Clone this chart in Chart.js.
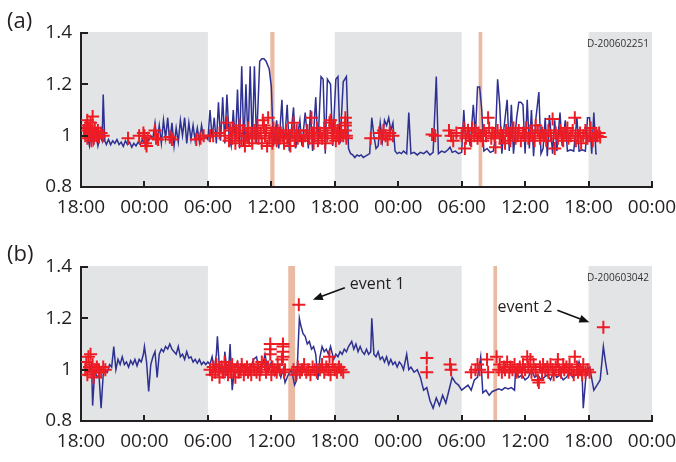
<!DOCTYPE html>
<html>
<head>
<meta charset="utf-8">
<script src="https://cdn.jsdelivr.net/npm/chart.js@4.4.1/dist/chart.umd.min.js"></script>
<style>
  html, body { margin: 0; padding: 0; background: #fff; }
  #wrap { position: relative; width: 676px; height: 462px; }
  canvas { position: absolute; left: 0; }
</style>
</head>
<body>
<div id="wrap">
  <canvas id="chartA" width="676" height="231" style="top:0"></canvas>
  <canvas id="chartB" width="676" height="231" style="top:231px"></canvas>
</div>
<script>
// x values are hours counted from the first 18:00
var xTickLabels = ["18:00", "00:00", "06:00", "12:00", "18:00", "00:00", "06:00", "12:00", "18:00", "00:00"];
var nightBands = [[0, 12], [24, 36], [48, 54]];
var stimBarsA = [[17.9, 18.3], [37.6, 37.95]];
var stimBarsB = [[19.6, 20.25], [39.0, 39.35]];

var lineA = [[0.6,1.0],[0.8,0.96],[1.0,1.02],[1.2,0.97],[1.4,1.01],[1.6,0.96],[1.8,1.0],[2.0,0.98],[2.1,1.16],[2.25,0.98],
  [2.4,0.965],[2.6,0.985],[2.8,0.965],[3.0,0.98],[3.2,0.97],[3.4,0.985],[3.6,0.965],[3.8,0.975],[4.0,0.958],[4.2,0.98],
  [4.4,0.965],[4.6,0.975],[4.8,0.955],[5.0,0.97],[5.2,0.96],[5.4,0.975],[5.6,0.965],[5.8,0.985],[6.0,0.97],[6.2,0.99],
  [6.4,0.98],[6.6,1.0],[6.8,0.99],[7.0,1.05],[7.2,0.98],[7.4,1.04],[7.6,0.97],[7.8,1.06],[8.0,0.99],[8.2,1.07],
  [8.4,0.97],[8.6,1.05],[8.8,0.96],[9.0,1.03],[9.2,0.975],[9.4,1.06],[9.6,1.0],[9.8,1.07],[10.0,0.97],[10.2,1.05],
  [10.4,0.985],[10.6,1.04],[10.8,0.98],[11.0,1.03],[11.2,0.975],[11.4,1.04],[11.6,0.99],[11.8,1.0],[12.0,0.985],[12.2,1.1],
  [12.4,0.99],[12.6,1.07],[12.8,0.97],[13.0,1.13],[13.2,0.98],[13.4,1.15],[13.6,0.97],[13.8,1.16],[14.0,1.0],[14.2,0.96],
  [14.4,1.1],[14.6,0.97],[14.8,1.18],[15.0,0.95],[15.2,1.27],[15.4,0.96],[15.6,1.2],[15.8,0.97],[16.0,1.27],[16.2,0.96],
  [16.4,1.27],[16.6,0.97],[16.9,1.29],[17.1,1.30],[17.3,1.30],[17.5,1.29],[17.8,1.26],[18.0,1.19],[18.2,0.96],[18.5,1.06],
  [18.7,0.95],[19.0,1.14],[19.2,0.95],[19.5,1.12],[19.7,0.94],[20.1,1.11],[20.3,0.95],[20.7,1.06],[20.9,0.96],[21.2,1.09],
  [21.5,0.95],[21.7,1.10],[21.9,0.94],[22.2,1.15],[22.4,0.96],[22.7,1.23],[22.9,1.22],[23.1,0.93],[23.3,1.22],[23.6,1.20],
  [23.8,0.96],[24.1,1.22],[24.3,1.23],[24.5,0.97],[24.8,1.21],[25.1,1.23],[25.3,0.95],[25.5,0.93],[25.7,0.925],[25.9,0.915],
  [26.1,0.925],[26.3,0.92],[26.5,0.925],[26.7,0.915],[26.9,0.92],[27.1,0.925],[27.3,0.93],[27.5,1.07],[27.7,1.0],[27.9,0.95],
  [28.1,0.96],[28.3,1.05],[28.5,0.98],[28.7,1.06],[28.9,1.04],[29.1,1.07],[29.3,1.02],[29.5,1.05],[29.7,0.94],[29.9,0.93],
  [30.1,0.935],[30.3,0.93],[30.5,0.94],[30.8,0.93],[31.0,1.09],[31.2,0.93],[31.5,0.935],[31.8,0.925],[32.1,0.935],[32.4,0.93],
  [32.7,0.94],[33.0,0.925],[33.3,0.935],[33.6,1.23],[33.8,0.93],[34.1,0.94],[34.4,0.935],[34.7,0.945],[34.9,0.955],[35.1,0.935],
  [35.4,0.94],[35.7,0.93],[36.0,0.935],[36.2,1.10],[36.4,0.97],[36.6,1.03],[36.8,0.96],[37.1,1.12],[37.3,1.0],[37.5,1.19],
  [37.7,1.19],[37.9,1.10],[38.1,0.94],[38.4,0.95],[38.7,0.935],[39.0,0.94],[39.2,1.0],[39.4,1.22],[39.6,1.12],[39.8,0.93],
  [40.0,1.03],[40.3,1.14],[40.5,0.94],[40.7,1.12],[40.9,0.93],[41.2,1.07],[41.4,1.13],[41.6,1.13],[41.8,1.12],[42.0,0.93],
  [42.2,1.14],[42.4,0.95],[42.6,1.10],[42.8,0.92],[43.0,1.06],[43.3,1.17],[43.5,0.93],[43.7,0.95],[43.9,1.07],[44.1,0.92],
  [44.3,1.08],[44.6,0.93],[44.8,1.06],[45.0,0.94],[45.3,1.09],[45.5,0.96],[45.8,1.06],[46.0,0.94],[46.3,0.945],[46.6,0.94],
  [46.9,1.07],[47.1,0.94],[47.4,0.945],[47.7,0.94],[47.9,1.07],[48.1,1.07],[48.3,0.93],[48.5,1.09],[48.7,0.93],[48.8,0.93]];

var markersA = [[0.3,1.02],[0.4,1.0],[0.5,1.04],[0.6,0.99],[0.7,1.03],[0.8,1.01],[0.9,1.05],[1.0,1.0],[1.1,1.075],[1.1,1.02],
  [1.2,0.99],[1.3,1.03],[1.4,1.01],[1.5,1.0],[1.6,1.02],[1.7,0.995],[1.9,1.01],[2.1,1.0],[0.6,1.06],[1.0,0.98],
  [4.45,0.99],[5.5,1.0],[5.9,1.01],[6.0,1.0],[6.1,0.97],[6.2,0.96],[6.3,0.99],[7.0,1.02],[7.1,0.99],[7.3,0.985],
  [8.4,0.995],[8.6,0.985],[10.9,0.985],[11.3,0.99],[11.6,1.0],[12.2,1.0],[12.5,1.0],[13.1,1.01],
  [13.6,1.0],[13.8,1.05],[14.0,0.98],[14.1,1.02],[14.3,0.99],[14.4,1.03],[14.6,0.97],[14.7,1.01],[14.9,1.0],[15.0,1.04],
  [15.2,0.98],[15.3,1.02],[15.5,0.96],[15.6,1.0],[15.8,1.03],[15.9,0.99],[16.1,1.01],[16.2,0.97],[16.4,1.02],[16.5,1.0],
  [16.7,1.03],[16.8,0.99],[17.0,1.01],[17.1,0.97],[17.2,1.06],[17.3,1.04],[17.4,1.0],[17.5,1.02],[17.6,0.96],[17.7,1.07],
  [17.8,0.99],[18.0,1.01],[18.1,0.97],[18.2,1.03],[18.4,1.0],[18.5,0.98],[18.6,1.02],[18.8,0.99],[18.9,1.01],[19.1,1.0],
  [19.2,0.97],[19.4,1.02],[19.5,0.99],[19.7,1.0],[19.8,0.96],[20.0,1.01],[20.1,1.05],[20.2,0.98],[20.4,1.02],[20.5,0.99],
  [20.7,1.0],[21.0,0.98],[21.2,1.0],[21.4,1.02],[21.6,0.99],[21.8,1.07],[21.9,1.01],[22.0,0.97],[22.1,1.0],[22.3,1.03],
  [22.4,0.98],[22.6,1.01],[22.8,0.99],[23.0,1.02],[23.1,0.97],[23.3,1.0],[23.5,1.05],[23.6,1.06],[23.7,1.03],[23.8,0.99],
  [23.9,1.01],[24.0,1.04],[24.1,0.98],[24.2,1.0],[24.3,1.02],[24.4,0.99],[24.6,1.01],[24.8,1.0],
  [25.0,1.07],[25.0,1.05],[25.0,1.04],[25.0,1.02],[25.1,1.0],[25.1,0.99],
  [27.4,0.99],[28.2,1.01],[28.4,0.99],[28.6,1.02],[28.8,1.0],[29.0,0.985],[29.2,1.01],[29.5,1.0],
  [33.2,1.005],[33.5,1.0],[34.8,1.02],[35.0,1.0],[35.2,0.98],[35.5,1.01],
  [36.0,1.0],[36.2,1.03],[36.3,0.95],[36.4,0.99],[36.6,1.02],[36.7,1.0],[36.9,0.98],[37.0,1.03],[37.2,1.0],[37.3,1.02],
  [37.5,0.99],[37.6,1.01],[37.8,1.0],[38.0,0.98],[38.1,1.02],[38.3,1.0],[38.5,1.07],[38.6,1.03],[38.8,0.99],[38.9,1.01],
  [39.1,1.0],[39.2,0.955],[39.4,1.02],[39.6,0.99],[39.7,1.01],[39.9,1.0],[40.1,0.97],[40.2,1.02],[40.4,1.0],[40.6,0.98],
  [40.7,1.01],[40.9,1.03],[41.1,0.99],[41.3,1.0],[41.4,1.02],[41.6,0.98],[41.8,1.01],[42.0,1.0],[42.1,1.03],[42.3,0.99],
  [42.5,1.01],[42.7,1.0],[42.9,0.98],[43.0,1.04],[43.2,1.02],[43.4,0.99],[43.6,1.01],[43.8,1.0],[44.0,0.98],[44.2,1.02],
  [44.4,1.0],[44.6,1.065],[44.8,0.95],[44.9,1.01],[45.1,0.99],[45.3,1.02],[45.5,1.0],[45.6,0.98],[45.8,1.01],[46.0,1.03],
  [46.1,0.99],[46.3,1.0],[46.5,1.02],[46.7,1.07],[46.8,0.98],[47.0,1.0],[47.2,1.01],[47.3,0.97],[47.5,1.0],[47.7,1.02],
  [47.9,0.99],[48.1,1.0],[48.2,1.03],[48.4,0.98],[48.6,1.01],[48.8,1.0],[49.0,1.01],[49.1,0.995]];

var lineB = [[0.6,1.0],[0.8,0.99],[1.0,1.02],[1.1,0.86],[1.3,1.0],[1.5,0.97],[1.7,0.98],[1.9,0.85],[2.1,0.98],[2.3,1.0],
  [2.5,0.99],[2.7,1.02],[2.9,1.01],[3.1,1.09],[3.3,1.0],[3.5,1.04],[3.7,1.02],[3.9,1.05],[4.1,1.02],[4.3,1.03],
  [4.5,1.01],[4.7,1.035],[4.9,1.02],[5.1,1.04],[5.3,1.015],[5.5,1.04],[5.7,1.03],[5.9,1.06],[6.0,1.09],[6.2,1.03],
  [6.4,0.915],[6.6,1.02],[6.8,1.05],[7.0,1.07],[7.2,0.97],[7.4,1.06],[7.6,1.08],[7.8,1.07],[8.0,1.09],[8.2,1.08],
  [8.4,1.1],[8.6,1.08],[8.8,1.07],[9.0,1.06],[9.2,1.09],[9.4,1.05],[9.6,1.06],[9.8,1.04],[10.0,1.07],[10.2,1.045],
  [10.4,1.05],[10.6,1.03],[10.8,1.04],[11.0,1.025],[11.2,1.04],[11.4,1.02],[11.6,1.03],[11.8,1.02],[12.0,1.03],[12.2,1.02],
  [12.4,1.05],[12.6,1.0],[12.8,1.06],[12.9,1.13],[13.1,1.0],[13.3,1.02],[13.5,0.98],[13.6,1.07],[13.8,1.0],[14.0,1.03],
  [14.1,1.10],[14.3,0.92],[14.5,1.0],[14.8,1.03],[15.0,0.98],[15.3,1.02],[15.6,0.99],[16.0,1.0],[16.3,1.04],[16.6,1.05],
  [16.9,0.98],[17.2,1.02],[17.4,1.06],[17.7,0.99],[18.0,1.03],[18.3,0.98],[18.6,1.02],[18.9,0.97],[19.1,1.0],[19.3,0.95],
  [19.6,0.98],[19.9,1.0],[20.2,0.94],[20.4,0.96],[20.65,1.20],[20.8,1.17],[21.0,1.14],[21.2,1.13],[21.4,1.10],[21.6,1.11],
  [21.8,1.08],[22.0,1.09],[22.2,1.06],[22.4,0.96],[22.6,1.05],[22.8,1.09],[23.0,1.07],[23.2,1.08],[23.4,1.06],[23.6,1.09],
  [23.9,1.04],[24.1,1.06],[24.3,1.05],[24.5,1.07],[24.7,1.06],[24.9,1.08],[25.1,1.07],[25.3,1.09],[25.6,1.11],[25.8,1.08],
  [26.0,1.10],[26.2,1.07],[26.4,1.09],[26.6,1.07],[26.8,1.06],[27.0,1.08],[27.2,1.06],[27.4,1.07],[27.5,1.20],[27.7,1.06],
  [27.9,1.05],[28.1,1.07],[28.3,1.04],[28.5,1.05],[28.7,1.03],[28.9,1.05],[29.1,1.02],[29.3,1.04],[29.5,1.02],[29.7,1.03],
  [29.9,1.01],[30.1,1.03],[30.3,1.02],[30.5,1.0],[30.8,1.06],[31.0,1.0],[31.2,1.01],[31.5,0.99],[31.8,1.0],[32.1,0.97],
  [32.4,0.92],[32.7,0.93],[33.0,0.88],[33.3,0.85],[33.6,0.89],[33.9,0.86],[34.2,0.9],[34.5,0.87],[34.8,0.92],[35.1,0.97],
  [35.4,0.95],[35.7,0.94],[36.0,0.92],[36.3,0.93],[36.6,0.94],[36.9,0.92],[37.2,0.96],[37.5,0.97],[37.8,1.05],[38.0,0.91],
  [38.3,0.92],[38.6,0.90],[38.9,0.915],[39.2,0.92],[39.5,0.925],[39.8,0.92],[40.1,0.93],[40.4,0.925],[40.7,0.93],[41.0,0.92],
  [41.1,1.0],[41.4,0.97],[41.7,0.98],[42.0,0.96],[42.3,0.97],[42.6,1.0],[42.9,0.97],[43.2,0.98],[43.5,0.96],[43.8,0.97],
  [44.1,0.98],[44.4,0.96],[44.7,0.99],[45.0,0.97],[45.3,0.98],[45.6,0.96],[45.9,0.97],[46.2,0.99],[46.5,0.97],[46.8,0.98],
  [47.1,1.03],[47.4,0.97],[47.5,0.85],[47.8,1.0],[48.1,1.01],[48.5,0.92],[48.8,0.94],[49.1,0.96],[49.4,1.09],[49.6,1.03],
  [49.8,0.98]];

var markersB = [[0.4,1.0],[0.5,1.03],[0.6,0.98],[0.7,1.05],[0.8,1.01],[0.9,1.06],[1.0,0.99],[1.1,1.02],[1.2,0.97],[1.3,1.0],
  [1.5,1.01],[1.7,1.0],[1.9,0.99],[2.1,1.01],[2.3,1.0],
  [12.2,1.0],[12.4,0.98],[12.5,1.01],[12.7,0.99],[12.8,1.02],[13.0,1.0],[13.1,0.97],[13.3,1.01],[13.4,0.99],[13.6,1.03],
  [13.7,1.0],[13.9,0.98],[14.0,1.01],[14.2,0.99],[14.3,1.02],[14.5,1.0],[14.6,0.97],[14.8,1.01],[14.9,0.99],[15.1,1.0],
  [15.2,1.02],[15.4,0.98],[15.5,1.0],[15.7,1.01],[15.8,0.99],[16.0,1.0],[16.1,0.98],[16.3,1.02],[16.4,1.0],[16.6,0.99],
  [16.7,1.01],[16.9,0.98],[17.0,1.0],[17.1,1.03],[17.4,1.02],[17.5,0.99],[17.7,1.01],[17.9,1.1],[17.9,1.08],[17.9,1.06],
  [18.0,0.98],[18.1,1.01],[18.3,1.0],[18.5,0.99],[18.6,1.02],[18.8,1.0],[19.0,1.04],[19.1,1.1],[19.1,1.09],[19.1,1.07],
  [19.1,1.05],[19.2,0.99],[19.3,1.0],
  [20.1,1.0],[20.3,0.98],[20.5,1.01],[20.7,0.99],[20.9,1.0],[21.1,1.02],[21.3,0.99],[21.5,1.0],[21.7,0.98],[21.9,1.01],
  [22.1,1.0],[22.3,0.99],[22.6,1.0],[22.8,1.02],[23.0,0.99],[23.2,1.01],[23.4,1.0],[23.5,1.05],[23.6,0.98],[23.8,1.02],
  [24.0,1.0],[24.2,0.99],[24.4,1.01],[24.6,1.0],[24.8,0.99],
  [32.7,1.045],[32.7,0.99],[34.9,1.02],[35.0,1.0],
  [36.9,0.99],[37.3,1.0],[37.5,1.02],[37.7,1.0],[38.4,1.04],[38.5,0.99],
  [39.3,1.05],[39.5,1.0],[39.6,1.02],[39.8,0.99],[40.0,1.01],[40.1,1.0],[40.3,1.03],[40.5,0.99],[40.6,1.01],[40.8,1.0],
  [41.0,1.02],[41.2,0.99],[41.3,1.0],[41.5,1.01],[41.7,0.99],[41.8,1.02],[42.0,1.0],[42.2,1.05],[42.3,1.01],[42.5,1.04],
  [42.6,0.99],[42.8,1.02],[43.0,1.0],[43.2,0.96],[43.3,0.95],[43.4,1.01],[43.6,0.99],[43.7,1.02],[43.9,1.0],[44.1,1.01],
  [44.2,0.99],[44.4,1.02],[44.6,1.0],[44.7,0.98],[44.9,1.01],[45.1,1.04],[45.2,1.0],[45.4,0.99],[45.6,1.02],[45.7,1.0],
  [45.9,1.01],[46.1,0.99],[46.2,1.02],[46.4,1.0],[46.6,0.98],[46.7,1.05],[46.9,1.01],[47.0,0.99],[47.2,1.0],[47.4,0.98],
  [47.5,1.02],[47.7,0.99],[47.9,1.0],[48.1,0.99],
  [20.6,1.253],[49.4,1.165]];

// label, hour, value, side of the text
var eventsB = [["event 1", 20.6, 1.253, 1], ["event 2", 49.4, 1.165, -1]];

var ink = '#231f20';
var fontFamily = '"Open Sans", "Liberation Sans", sans-serif';

function toXY(arr) {
  return arr.map(function (p) { return { x: p[0], y: p[1] }; });
}

function decor(opts) {
  return {
    id: 'decor',
    beforeDraw: function (chart) {
      var ctx = chart.ctx, a = chart.chartArea, xs = chart.scales.x;
      ctx.save();
      ctx.fillStyle = '#e3e4e6';
      nightBands.forEach(function (b) {
        var x0 = xs.getPixelForValue(b[0]), x1 = xs.getPixelForValue(b[1]);
        ctx.fillRect(x0, a.top - 1, x1 - x0, a.bottom - a.top + 1);
      });
      ctx.fillStyle = '#ebbaa3';
      opts.bars.forEach(function (b) {
        var x0 = xs.getPixelForValue(b[0]), x1 = xs.getPixelForValue(b[1]);
        ctx.fillRect(x0, a.top - 1, x1 - x0, a.bottom - a.top + 1);
      });
      ctx.restore();
    },
    afterDraw: function (chart) {
      var ctx = chart.ctx, a = chart.chartArea, xs = chart.scales.x, ys = chart.scales.y;
      ctx.save();
      // inward tick marks
      ctx.strokeStyle = ink;
      ctx.lineWidth = 2;
      ctx.beginPath();
      xs.ticks.forEach(function (t) {
        var px = Math.round(xs.getPixelForValue(t.value));
        ctx.moveTo(px, a.bottom);
        ctx.lineTo(px, a.bottom - 6);
      });
      ys.ticks.forEach(function (t) {
        var py = Math.round(ys.getPixelForValue(t.value));
        ctx.moveTo(a.left, py);
        ctx.lineTo(a.left + 7, py);
      });
      ctx.stroke();

      // panel letter
      ctx.fillStyle = ink;
      ctx.font = '22px ' + fontFamily;
      ctx.textAlign = 'left';
      ctx.textBaseline = 'middle';
      ctx.fillText(opts.letter, 7, opts.letterY);

      // record id
      ctx.font = '10px ' + fontFamily;
      ctx.fillStyle = '#333';
      ctx.textAlign = 'right';
      ctx.fillText(opts.id, a.right - 3, a.top + 11);

      // event arrows
      (opts.events || []).forEach(function (ev) {
        var px = xs.getPixelForValue(ev[1]), py = ys.getPixelForValue(ev[2]), d = ev[3];
        var hx = px + 14 * d, hy = py - 5, tx = px + 46 * d, ty = py - 17;
        var ang = Math.atan2(hy - ty, hx - tx);
        ctx.strokeStyle = '#111';
        ctx.fillStyle = '#111';
        ctx.lineWidth = 1.6;
        ctx.beginPath();
        ctx.moveTo(tx, ty);
        ctx.lineTo(hx - 6 * Math.cos(ang), hy - 6 * Math.sin(ang));
        ctx.stroke();
        ctx.beginPath();
        ctx.moveTo(hx, hy);
        ctx.lineTo(hx - 10 * Math.cos(ang) + 4 * Math.sin(ang), hy - 10 * Math.sin(ang) - 4 * Math.cos(ang));
        ctx.lineTo(hx - 10 * Math.cos(ang) - 4 * Math.sin(ang), hy - 10 * Math.sin(ang) + 4 * Math.cos(ang));
        ctx.closePath();
        ctx.fill();
        ctx.font = '16px ' + fontFamily;
        ctx.fillStyle = ink;
        ctx.textAlign = d > 0 ? 'left' : 'right';
        ctx.textBaseline = 'middle';
        ctx.fillText(ev[0], px + 51 * d, py - 20);
      });
      ctx.restore();
    }
  };
}

function makePanel(canvasId, line, markers, opts) {
  return new Chart(document.getElementById(canvasId), {
    type: 'scatter',
    data: {
      datasets: [
        {
          data: toXY(markers),
          pointStyle: 'cross',
          pointRadius: 6.5,
          pointBorderWidth: 2,
          borderColor: '#ed1c24',
          backgroundColor: '#ed1c24',
          order: 0
        },
        {
          data: toXY(line),
          showLine: true,
          borderColor: '#2e3192',
          borderWidth: 1.5,
          pointRadius: 0,
          tension: 0,
          order: 1
        }
      ]
    },
    options: {
      responsive: false,
      animation: false,
      layout: { padding: { top: opts.top, right: 24, left: 0, bottom: 0 } },
      plugins: { legend: { display: false }, tooltip: { enabled: false } },
      scales: {
        x: {
          type: 'linear',
          min: 0,
          max: 54,
          grid: { display: false, drawTicks: false },
          border: { display: true, color: ink, width: 2 },
          ticks: {
            stepSize: 6,
            autoSkip: false,
            maxRotation: 0,
            padding: 9,
            color: ink,
            font: { family: fontFamily, size: 19 },
            callback: function (v) { return xTickLabels[Math.round(v / 6)]; }
          },
          afterFit: function (s) { s.height = opts.xh; s.paddingLeft = 0; s.paddingRight = 0; }
        },
        y: {
          min: 0.8,
          max: 1.4,
          grid: { display: false, drawTicks: false },
          border: { display: true, color: ink, width: 2 },
          ticks: {
            stepSize: 0.2,
            padding: 9,
            color: ink,
            font: { family: fontFamily, size: 19 },
            callback: function (v) { return Math.abs(v - 1) < 1e-9 ? '1' : v.toFixed(1); }
          },
          afterFit: function (s) { s.width = 81; s.paddingTop = 0; s.paddingBottom = 0; }
        }
      }
    },
    plugins: [decor(opts)]
  });
}

makePanel('chartA', lineA, markersA, { top: 33, xh: 44, bars: stimBarsA, letter: '(a)', letterY: 22, id: 'D-200602251' });
makePanel('chartB', lineB, markersB, { top: 36, xh: 41, bars: stimBarsB, letter: '(b)', letterY: 24, id: 'D-200603042', events: eventsB });
</script>
</body>
</html>
